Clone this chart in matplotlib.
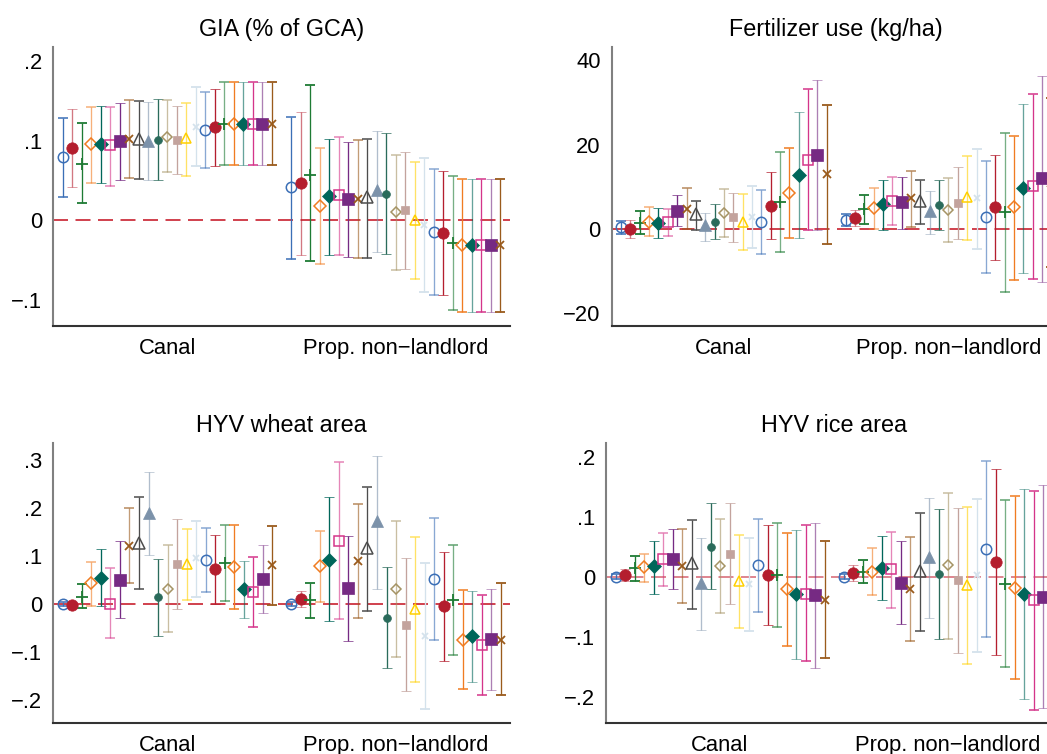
import numpy as np
import matplotlib
matplotlib.use("Agg")
import matplotlib.pyplot as plt
from matplotlib.colors import to_rgba

plt.rcParams['font.family'] = ['Liberation Sans', 'DejaVu Sans']

# group labels
groups = ["Canal", "Prop. non\u2212landlord"]

# --- GIA (% of GCA) ---
gia_canal_b = [0.079, 0.091, 0.071, 0.095, 0.095, 0.094, 0.099, 0.102, 0.1025, 0.100, 0.101, 0.105,
               0.101, 0.103, 0.1175, 0.113, 0.1167, 0.121, 0.121, 0.121, 0.121, 0.121, 0.121]
gia_canal_lo = [0.029, 0.041, 0.021, 0.047, 0.046, 0.043, 0.050, 0.0525, 0.052, 0.050, 0.050, 0.060,
                0.0575, 0.0555, 0.068, 0.065, 0.0675, 0.069, 0.069, 0.069, 0.069, 0.069, 0.069]
gia_canal_hi = [0.128, 0.140, 0.122, 0.1425, 0.144, 0.1425, 0.147, 0.151, 0.150, 0.149, 0.152, 0.151,
                0.143, 0.1475, 0.1667, 0.161, 0.1646, 0.174, 0.174, 0.174, 0.174, 0.174, 0.174]
gia_prop_b = [0.041, 0.046, 0.057, 0.018, 0.030, 0.031, 0.026, 0.026, 0.0285, 0.038, 0.033, 0.010,
              0.012, 0.000, -0.006, -0.015, -0.016, -0.029, -0.032, -0.032, -0.032, -0.032, -0.032]
gia_prop_lo = [-0.049, -0.044, -0.052, -0.055, -0.044, -0.044, -0.047, -0.048, -0.048, -0.040, -0.043, -0.063,
               -0.061, -0.074, -0.090, -0.094, -0.094, -0.113, -0.116, -0.116, -0.116, -0.116, -0.116]
gia_prop_hi = [0.130, 0.136, 0.170, 0.091, 0.102, 0.105, 0.098, 0.101, 0.102, 0.112, 0.109, 0.082,
               0.085, 0.073, 0.078, 0.064, 0.062, 0.055, 0.052, 0.052, 0.052, 0.052, 0.052]

# --- Fertilizer use (kg/ha) ---
fert_canal_b = [0.4, 0.0, 1.4, 1.7, 1.4, 1.5, 4.3, 4.8, 3.4, 0.8, 1.7, 3.7,
                2.8, 1.7, 2.9, 1.7, 5.5, 6.3, 8.6, 12.8, 16.4, 17.6, 13.0]
fert_canal_lo = [-1.35, -2.2, -1.3, -1.7, -2.1, -1.7, 0.6, 0.0, -0.4, -3.0, -2.5, -1.9,
                 -3.1, -5.1, -4.5, -5.9, -2.4, -5.4, -2.1, -2.2, -0.3, -0.4, -3.5]
fert_canal_hi = [1.8, 2.2, 4.2, 5.2, 4.9, 4.7, 8.0, 9.7, 6.7, 3.7, 5.9, 9.5,
                 8.6, 8.2, 10.1, 9.3, 13.4, 18.2, 19.3, 27.8, 33.2, 35.4, 29.5]
fert_prop_b = [2.1, 2.5, 4.7, 4.9, 5.8, 6.6, 6.3, 7.2, 6.6, 4.2, 5.7, 4.4,
               6.1, 7.5, 7.3, 2.9, 5.1, 3.9, 5.1, 9.6, 10.1, 12.0, 11.0]
fert_prop_lo = [0.6, 0.7, 1.1, 0.0, -0.2, 0.8, 0.0, 0.5, 1.2, -1.2, -0.4, -3.2,
                -2.5, -2.6, -4.7, -10.4, -7.5, -15.0, -12.2, -10.4, -11.9, -12.6, -9.0]
fert_prop_hi = [3.6, 4.5, 8.0, 9.8, 11.6, 12.3, 12.4, 13.7, 11.6, 8.9, 11.7, 12.0,
                14.6, 17.2, 18.9, 16.2, 17.5, 22.8, 22.0, 29.7, 32.0, 36.3, 31.0]

# --- HYV wheat area ---
wheat_canal_b = [0.0, -0.001, 0.015, 0.043, 0.055, 0.001, 0.051, 0.121, 0.128, 0.189, 0.014, 0.032,
                 0.084, 0.084, 0.096, 0.092, 0.072, 0.085, 0.078, 0.032, 0.026, 0.052, 0.081]
wheat_canal_lo = [-0.004, -0.005, -0.009, -0.003, -0.003, -0.071, -0.029, 0.043, 0.031, 0.103, -0.066, -0.058,
                  -0.011, 0.008, 0.015, 0.026, 0.001, 0.006, -0.010, -0.028, -0.048, -0.019, -0.002]
wheat_canal_hi = [0.004, 0.003, 0.041, 0.088, 0.115, 0.075, 0.131, 0.199, 0.222, 0.274, 0.093, 0.122,
                  0.178, 0.156, 0.174, 0.159, 0.143, 0.164, 0.164, 0.090, 0.099, 0.122, 0.163]
wheat_prop_b = [0.0, 0.010, 0.008, 0.079, 0.092, 0.131, 0.033, 0.090, 0.116, 0.172, -0.028, 0.031,
                -0.043, -0.010, -0.067, 0.053, -0.003, 0.008, -0.074, -0.067, -0.085, -0.073, -0.074]
wheat_prop_lo = [-0.004, -0.007, -0.029, 0.004, -0.036, -0.031, -0.077, -0.030, -0.015, 0.031, -0.134, -0.110,
                 -0.182, -0.163, -0.219, -0.074, -0.118, -0.107, -0.176, -0.162, -0.190, -0.178, -0.190]
wheat_prop_hi = [0.004, 0.028, 0.044, 0.152, 0.222, 0.295, 0.142, 0.209, 0.243, 0.308, 0.077, 0.172,
                 0.095, 0.139, 0.085, 0.180, 0.109, 0.123, 0.029, 0.028, 0.018, 0.031, 0.044]

# --- HYV rice area ---
rice_canal_b = [0.0, 0.003, 0.014, 0.0155, 0.017, 0.029, 0.029, 0.018, 0.022, -0.010, 0.050, 0.018,
                0.038, -0.007, -0.012, 0.019, 0.003, 0.003, -0.021, -0.029, -0.028, -0.030, -0.039]
rice_canal_lo = [-0.004, -0.008, -0.007, -0.009, -0.028, -0.0155, -0.020, -0.043, -0.053, -0.088, -0.021, -0.060,
                 -0.045, -0.085, -0.090, -0.058, -0.080, -0.084, -0.115, -0.137, -0.141, -0.152, -0.136]
rice_canal_hi = [0.004, 0.013, 0.034, 0.038, 0.060, 0.073, 0.079, 0.080, 0.094, 0.065, 0.122, 0.096,
                 0.122, 0.069, 0.065, 0.096, 0.086, 0.089, 0.072, 0.077, 0.086, 0.090, 0.060]
rice_prop_b = [0.0, 0.0066, 0.008, 0.008, 0.014, 0.012, -0.010, -0.020, 0.010, 0.033, 0.005, 0.019,
               -0.006, -0.013, 0.002, 0.046, 0.025, -0.012, -0.018, -0.029, -0.039, -0.034, -0.040]
rice_prop_lo = [-0.004, -0.007, -0.010, -0.030, -0.039, -0.052, -0.078, -0.107, -0.090, -0.069, -0.104, -0.103,
                -0.127, -0.146, -0.125, -0.100, -0.130, -0.150, -0.170, -0.203, -0.222, -0.218, -0.210]
rice_prop_hi = [0.004, 0.019, 0.027, 0.048, 0.067, 0.074, 0.060, 0.066, 0.106, 0.131, 0.113, 0.139,
                0.115, 0.116, 0.130, 0.192, 0.180, 0.127, 0.134, 0.146, 0.142, 0.152, 0.130]

# y tick labels per panel
gia_ticks = [-0.1, 0, 0.1, 0.2]
gia_ticklabels = ["\u2212.1", "0", ".1", ".2"]
fert_ticks = [-20, 0, 20, 40]
fert_ticklabels = ["\u221220", "0", "20", "40"]
wheat_ticks = [-0.2, -0.1, 0, 0.1, 0.2, 0.3]
wheat_ticklabels = ["\u2212.2", "\u2212.1", "0", ".1", ".2", ".3"]
rice_ticks = [-0.2, -0.1, 0, 0.1, 0.2]
rice_ticklabels = ["\u2212.2", "\u2212.1", "0", ".1", ".2"]

# series styles (23 series per group)
base_colors = ['#3B6FB6', '#B41E2E', '#1E7B34', '#F07C21', '#00665A', '#D4358A', '#762A83', '#9A5B1C',
               '#4D4D4D', '#7C92AA', '#2A6B5B', '#A59364', '#C3A39D', '#FFD000', '#D4E2EC']
colors = base_colors + base_colors[:8]
base_markers = ['o', 'o', '+', 'D', 'D', 's', 's', 'x', '^', '^', 'o', 'D', 's', '^', 'x']
markers = base_markers + base_markers[:8]
base_filled = [False, True, True, False, True, False, True, True, False, True, True, False, True, False, True]
filled = base_filled + base_filled[:8]
base_sizes = [7.5, 8.2, 8, 6.6, 7, 7.4, 8.2, 5.6, 8.2, 8.8, 5.6, 5.4, 5.8, 7, 4]
sizes = base_sizes + base_sizes[:8]

panels = [
    ("GIA (% of GCA)", gia_canal_b, gia_canal_lo, gia_canal_hi, gia_prop_b, gia_prop_lo, gia_prop_hi,
     gia_ticks, gia_ticklabels, (-0.1333, 0.2176), [53, 47, 457, 279], '#C8202F'),
    ("Fertilizer use (kg/ha)", fert_canal_b, fert_canal_lo, fert_canal_hi, fert_prop_b, fert_prop_lo, fert_prop_hi,
     fert_ticks, fert_ticklabels, (-23.1, 43.2), [611.7, 47, 449, 279], '#C8202F'),
    ("HYV wheat area", wheat_canal_b, wheat_canal_lo, wheat_canal_hi, wheat_prop_b, wheat_prop_lo, wheat_prop_hi,
     wheat_ticks, wheat_ticklabels, (-0.247, 0.336), [53.3, 442.7, 457, 280], '#C8202F'),
    ("HYV rice area", rice_canal_b, rice_canal_lo, rice_canal_hi, rice_prop_b, rice_prop_lo, rice_prop_hi,
     rice_ticks, rice_ticklabels, (-0.243, 0.223), [606, 442.7, 456, 280], '#D9707C'),
]

W, H = 1047, 754
fig = plt.figure(figsize=(W / 100, H / 100), dpi=100)

n = len(colors)
gap = 24  # second group starts after one empty slot

for (title, b1, lo1, hi1, b2, lo2, hi2, yt, ytl, ylim, rect, zcol) in panels:
    left, top, w, h = rect
    ax = fig.add_axes([left / W, 1 - (top + h) / H, w / W, h / H])

    ax.axhline(0, color=zcol, lw=1.2, dashes=(9, 4.5), zorder=0)

    for i in range(n):
        x = np.array([i, gap + i])
        y = np.array([b1[i], b2[i]])
        lo = np.array([lo1[i], lo2[i]])
        hi = np.array([hi1[i], hi2[i]])
        c = colors[i]
        ecol = to_rgba(c, 0.6 if i % 2 == 1 else 1.0)
        mfc = c if filled[i] else 'none'
        mew = 1.3 if markers[i] in ('x', '+') else (1.1 if not filled[i] else 0.5)
        ax.errorbar(x, y, yerr=[y - lo, hi - y], fmt=markers[i], ms=sizes[i],
                    mfc=mfc, mec=c, mew=mew, ecolor=ecol, elinewidth=0.95,
                    capsize=3.6, capthick=1.0, zorder=2 + i * 0.01)

    ax.set_xlim(-1.0, 47.0)
    ax.set_ylim(*ylim)
    ax.set_xticks([11, gap + 11])
    ax.set_xticklabels(groups)
    ax.set_yticks(yt)
    ax.set_yticklabels(ytl)
    ax.tick_params(axis='both', length=0, labelsize=15.8)
    ax.tick_params(axis='y', pad=8)
    ax.tick_params(axis='x', pad=9)
    for s in ['top', 'right']:
        ax.spines[s].set_visible(False)
    ax.spines['left'].set_color('#808080')
    ax.spines['left'].set_linewidth(1.5)
    ax.spines['bottom'].set_color('#333333')
    ax.spines['bottom'].set_linewidth(1.5)
    ax.set_title(title, fontsize=16.8, pad=8)

fig.savefig("out.png", dpi=100)
